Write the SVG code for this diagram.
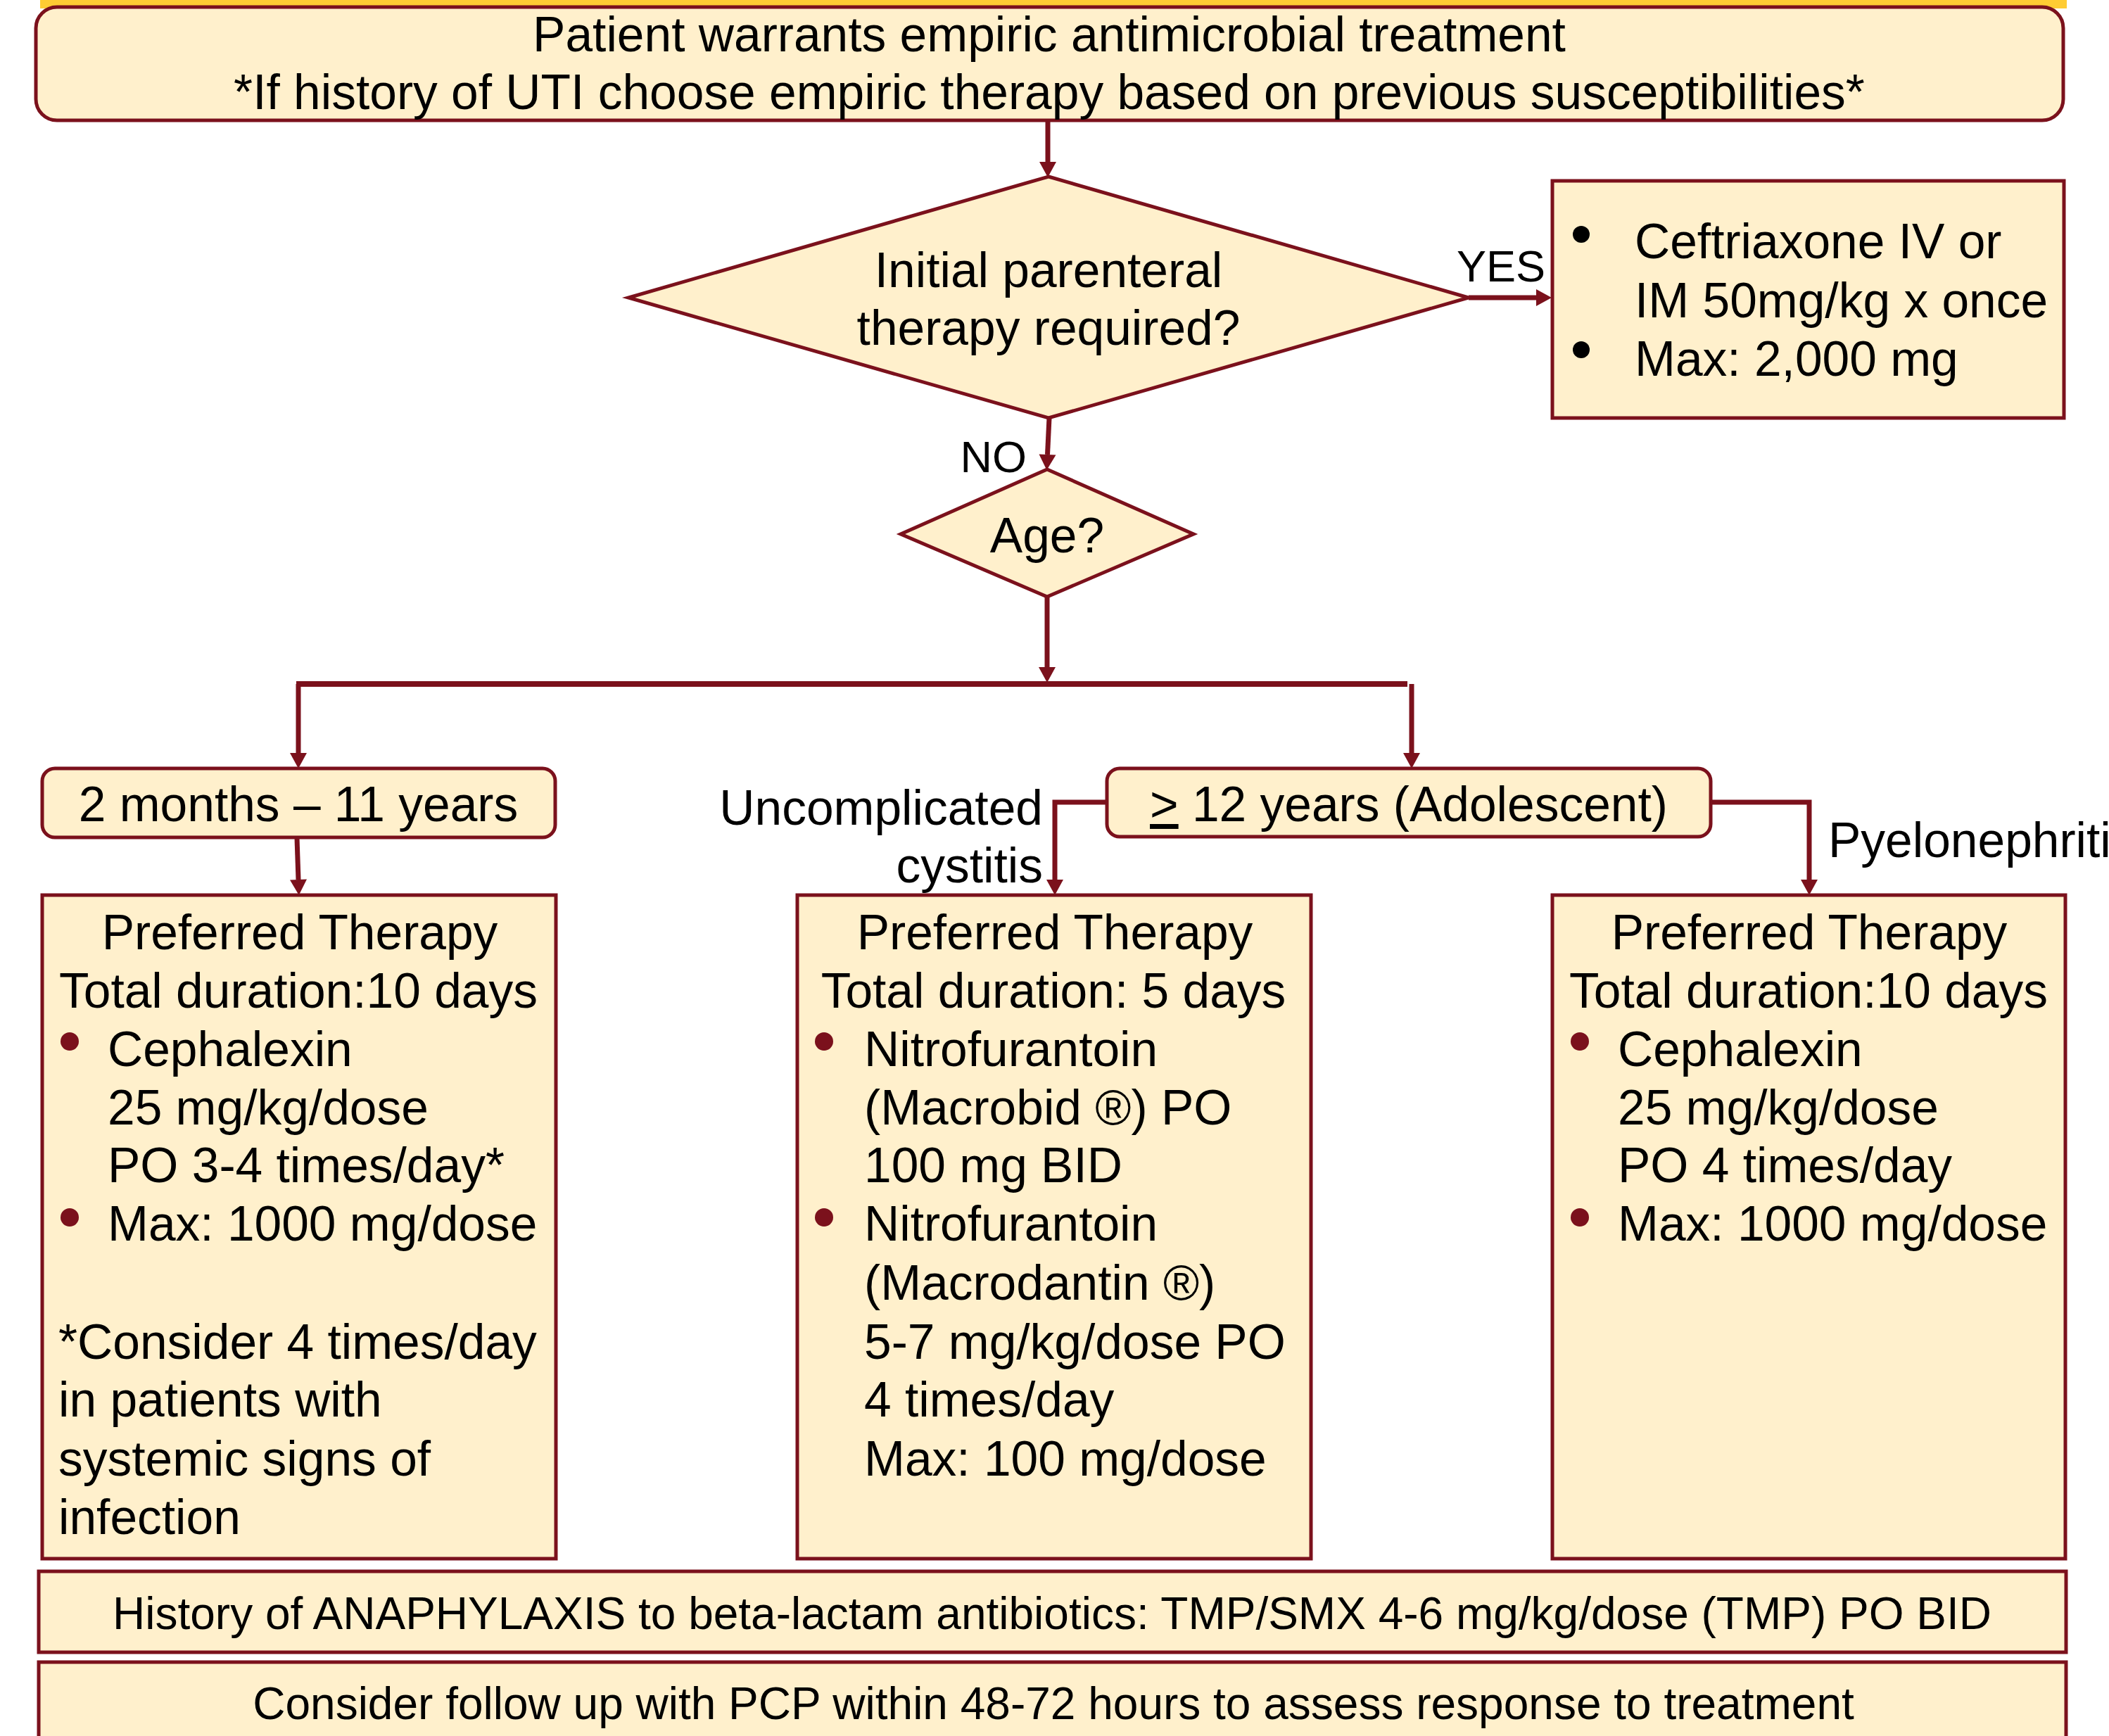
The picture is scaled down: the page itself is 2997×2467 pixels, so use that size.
<svg xmlns="http://www.w3.org/2000/svg" width="2997" height="2467" viewBox="0 0 2997 2467">
<style>
.box{fill:#FFF0CC;stroke:#7B111C;stroke-width:5}
.t{font-family:"Liberation Sans",Arial,sans-serif;font-size:69.5px;fill:#000}
.s{font-size:63px}
.b{font-size:64px}
.c{text-anchor:middle}
.e{text-anchor:end}
.conn{fill:none;stroke:#7B111C;stroke-width:7}
.dot{fill:#7B111C}
.blk{fill:#000}
</style>
<defs>
<marker id="arr" markerUnits="userSpaceOnUse" markerWidth="24" markerHeight="26" refX="0" refY="12" orient="auto" overflow="visible">
<path d="M0,0 L22,12 L0,24 Z" fill="#7B111C"/>
</marker>
</defs>
<rect x="57" y="0" width="2880" height="12" fill="#FFCC33"/>

<g id="connectors">
<path class="conn" d="M1489,171 V230" marker-end="url(#arr)"/>
<path class="conn" d="M2087,423 H2183" marker-end="url(#arr)"/>
<path class="conn" d="M1491,594 L1488.5,646" marker-end="url(#arr)"/>
<path class="conn" d="M1488,848 V948" marker-end="url(#arr)"/>
<path class="conn" style="stroke-width:8" d="M421,972 H2000"/>
<path class="conn" d="M424,972 V1070" marker-end="url(#arr)"/>
<path class="conn" d="M2006,972 V1070" marker-end="url(#arr)"/>
<path class="conn" d="M422,1191 L424,1250" marker-end="url(#arr)"/>
<path class="conn" d="M1572,1140 H1499 V1250" marker-end="url(#arr)"/>
<path class="conn" d="M2431,1140 H2571 V1250" marker-end="url(#arr)"/>
<text class="t s" x="2070" y="400">YES</text>
<text class="t s e" x="1459" y="671">NO</text>
<text class="t e" x="1482" y="1172">Uncomplicated</text>
<text class="t e" x="1482" y="1254">cystitis</text>
<text class="t" x="2598" y="1218">Pyelonephritis</text>
</g>

<g id="start">
<rect class="box" x="51" y="10" width="2881" height="161" rx="30"/>
<text class="t c" x="1491" y="73">Patient warrants empiric antimicrobial treatment</text>
<text class="t c" x="1491" y="155">*If history of UTI choose empiric therapy based on previous susceptibilities*</text>
</g>

<g id="parenteral">
<polygon class="box" points="1490,251 2087,423 1490,594 893,423"/>
<text class="t c" x="1490" y="408">Initial parenteral</text>
<text class="t c" x="1490" y="490">therapy required?</text>
</g>

<g id="ceftriaxone">
<rect class="box" x="2206" y="257" width="727" height="337"/>
<circle class="blk" cx="2247" cy="333" r="12"/>
<circle class="blk" cx="2247" cy="497" r="12"/>
<text class="t" x="2323" y="367">Ceftriaxone IV or</text>
<text class="t" x="2323" y="451">IM 50mg/kg x once</text>
<text class="t" x="2323" y="534">Max: 2,000 mg</text>
</g>

<g id="age">
<polygon class="box" points="1488,667 1696,759 1488,848 1280,759"/>
<text class="t c" x="1488" y="785">Age?</text>
</g>

<g id="child">
<rect class="box" x="60" y="1092" width="729" height="98" rx="18"/>
<text class="t c" x="424" y="1167">2 months – 11 years</text>
</g>

<g id="adolescent">
<rect class="box" x="1573" y="1092" width="858" height="97" rx="18"/>
<text class="t c" x="2002" y="1167"><tspan text-decoration="underline">&gt;</tspan> 12 years (Adolescent)</text>
</g>

<g id="therapy-child">
<rect class="box" x="60" y="1272" width="730" height="943"/>
<text class="t c" x="426" y="1349">Preferred Therapy</text>
<text class="t c" x="424" y="1432">Total duration:10 days</text>
<circle class="dot" cx="99" cy="1480" r="13"/>
<circle class="dot" cx="99" cy="1730" r="13"/>
<text class="t" x="153" y="1515">Cephalexin</text>
<text class="t" x="153" y="1598">25 mg/kg/dose</text>
<text class="t" x="153" y="1680">PO 3-4 times/day*</text>
<text class="t" x="153" y="1763">Max: 1000 mg/dose</text>
<text class="t" x="83" y="1931">*Consider 4 times/day</text>
<text class="t" x="83" y="2013">in patients with</text>
<text class="t" x="83" y="2097">systemic signs of</text>
<text class="t" x="83" y="2180">infection</text>
</g>

<g id="therapy-cystitis">
<rect class="box" x="1133" y="1272" width="730" height="943"/>
<text class="t c" x="1499" y="1349">Preferred Therapy</text>
<text class="t c" x="1497" y="1432">Total duration: 5 days</text>
<circle class="dot" cx="1171" cy="1480" r="13"/>
<circle class="dot" cx="1171" cy="1730" r="13"/>
<text class="t" x="1228" y="1515">Nitrofurantoin</text>
<text class="t" x="1228" y="1598">(Macrobid ®) PO</text>
<text class="t" x="1228" y="1680">100 mg BID</text>
<text class="t" x="1228" y="1763">Nitrofurantoin</text>
<text class="t" x="1228" y="1847">(Macrodantin ®)</text>
<text class="t" x="1228" y="1931">5-7 mg/kg/dose PO</text>
<text class="t" x="1228" y="2013">4 times/day</text>
<text class="t" x="1228" y="2097">Max: 100 mg/dose</text>
</g>

<g id="therapy-pyelo">
<rect class="box" x="2206" y="1272" width="729" height="943"/>
<text class="t c" x="2571" y="1349">Preferred Therapy</text>
<text class="t c" x="2570" y="1432">Total duration:10 days</text>
<circle class="dot" cx="2245" cy="1480" r="13"/>
<circle class="dot" cx="2245" cy="1730" r="13"/>
<text class="t" x="2299" y="1515">Cephalexin</text>
<text class="t" x="2299" y="1598">25 mg/kg/dose</text>
<text class="t" x="2299" y="1680">PO 4 times/day</text>
<text class="t" x="2299" y="1763">Max: 1000 mg/dose</text>
</g>

<g id="anaphylaxis">
<rect class="box" x="55" y="2233" width="2881" height="115"/>
<text class="t b c" x="1495" y="2315">History of ANAPHYLAXIS to beta-lactam antibiotics: TMP/SMX 4-6 mg/kg/dose (TMP) PO BID</text>
</g>

<g id="followup">
<rect class="box" x="55" y="2362" width="2881" height="200"/>
<text class="t b c" x="1497" y="2443">Consider follow up with PCP within 48-72 hours to assess response to treatment</text>
</g>
</svg>
